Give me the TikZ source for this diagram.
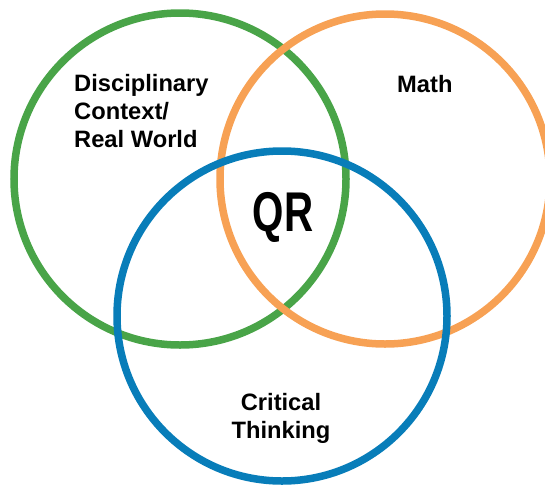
\documentclass[tikz,border=0pt]{standalone}
\usepackage{fontspec}
\setmainfont{Liberation Sans}
\definecolor{vgreen}{RGB}{73,164,72}
\definecolor{vorange}{RGB}{247,161,84}
\definecolor{vblue}{RGB}{8,125,185}
\tikzset{
  ring/.style={line width=7.5pt},
  lbl/.style={inner sep=0pt, font=\fontsize{23.7}{27.7}\selectfont\bfseries, text=black},
}
\begin{document}
\begin{tikzpicture}[x=1pt,y=-1pt]
\useasboundingbox (0,0) rectangle (545,485);
\clip (0,0) rectangle (545,485);
\draw[ring, vgreen] (180,179) circle[radius=166];
\draw[ring, vorange] (385,179) circle[radius=165];
\draw[ring, vblue] (282,316) circle[radius=165];
\node[lbl, anchor=base west, align=left] (ctx) at (74,147) {Disciplinary\\Context/\\Real World};
\node[lbl, anchor=base west] (math) at (397,92) {Math};
\node[lbl, anchor=base, align=center] (crit) at (281,438) {Critical\\Thinking};
\node[inner sep=0pt, anchor=base, font=\fontsize{56}{60}\selectfont\bfseries] (qr) at (283,231) {\scalebox{0.72}[1]{QR}};
\end{tikzpicture}
\end{document}
